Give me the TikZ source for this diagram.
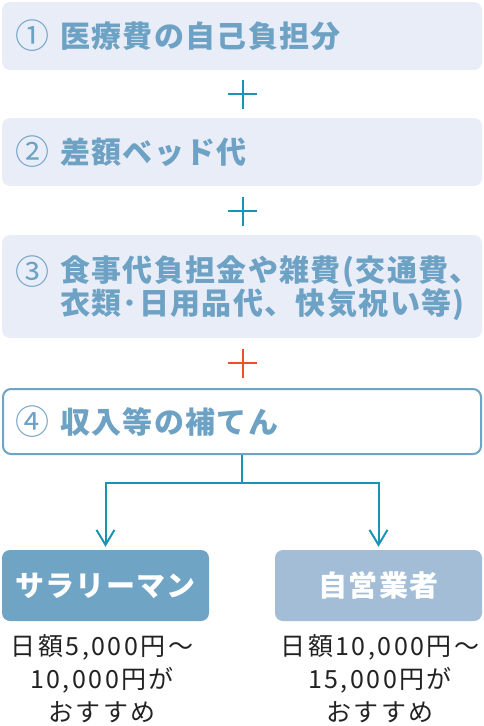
\documentclass[tikz,border=0pt]{standalone}
\usepackage{fontspec}
\newfontfamily\jp{Noto Sans CJK JP}
\newfontfamily\jpsp{Noto Sans CJK JP}[LetterSpace=4.5]
\newfontfamily\jpkind{Noto Sans CJK JP}[LetterSpace=4]
\newfontfamily\jpnote{Noto Sans CJK JP}[LetterSpace=10]
\usetikzlibrary{arrows.meta}
\definecolor{boxfill}{HTML}{E8EDF8}
\definecolor{headtext}{HTML}{6EA2C4}
\definecolor{plusteal}{HTML}{1B93B5}
\definecolor{plusred}{HTML}{E8502E}
\definecolor{salaryfill}{HTML}{6FA4C5}
\definecolor{selffill}{HTML}{A3BDD7}
\definecolor{notetext}{HTML}{222222}
\begin{document}
\begin{tikzpicture}[x=1pt,y=-1pt,
    costbox/.style={rounded corners=8pt, minimum width=480pt, inner sep=0pt},
    numlabel/.style={anchor=west, inner sep=0pt, headtext, font=\jp\fontsize{34}{36}\selectfont},
    headlabel/.style={anchor=west, inner sep=0pt, headtext, align=left, font=\jpsp\bfseries\fontsize{30}{30}\selectfont},
    kindbox/.style={rounded corners=8pt, minimum width=207pt, minimum height=71pt, inner sep=0pt, text=white, font=\jpkind\bfseries\fontsize{29}{31}\selectfont},
    note/.style={align=center, inner sep=0pt, notetext, font=\jpnote\fontsize{25}{33}\selectfont},
    plusline/.style={line width=2pt},
    branch/.style={plusteal, line width=2pt, -{Straight Barb[length=15pt, width=18pt, line width=2pt]}, shorten >=3pt}
]
    \useasboundingbox (0,0) rectangle (483,726);
    % cost boxes
    \node[costbox, fill=boxfill, minimum height=68pt] (box1) at (242,36) {};
    \node[numlabel] (num1) at (15,36) {①};
    \node[headlabel] (head1) at (60,36) {医療費の自己負担分};
    \node[costbox, fill=boxfill, minimum height=68pt] (box2) at (242,152) {};
    \node[numlabel] (num2) at (15,152) {②};
    \node[headlabel] (head2) at (60,152) {差額ベッド代};
    \node[costbox, fill=boxfill, minimum height=103pt] (box3) at (242,286.5) {};
    \node[numlabel] (num3) at (15,272) {③};
    \node[headlabel] (head3) at (60,288) {食事代負担金や雑費(交通費、\\衣類･日用品代、快気祝い等)};
    \node[costbox, draw=salaryfill, line width=2pt, fill=white, minimum width=478pt, minimum height=65pt] (box4) at (242,421.5) {};
    \node[numlabel] (num4) at (15,422) {④};
    \node[headlabel] (head4) at (60,422) {収入等の補てん};
    % plus signs
    \foreach \py/\pc in {94/plusteal, 211/plusteal, 363/plusred}
        \draw[plusline, \pc] (228,\py) -- (257,\py) (242.5,\py-14.5) -- (242.5,\py+14.5);
    % branches
    \node[kindbox, fill=salaryfill] (salary) at (105.5,585.5) {サラリーマン};
    \node[kindbox, fill=selffill] (selfemp) at (378.5,585.5) {自営業者};
    \coordinate (split) at (242,483);
    \draw[plusteal, line width=2pt] (box4.south) -- (split);
    \draw[branch] (split) -| (salary.north);
    \draw[branch] (split) -| (selfemp.north);
    % notes
    \node[note] (note1) at (102,679) {日額5,000円～\\10,000円が\\おすすめ};
    \node[note] (note2) at (380,679) {日額10,000円～\\15,000円が\\おすすめ};
\end{tikzpicture}
\end{document}
